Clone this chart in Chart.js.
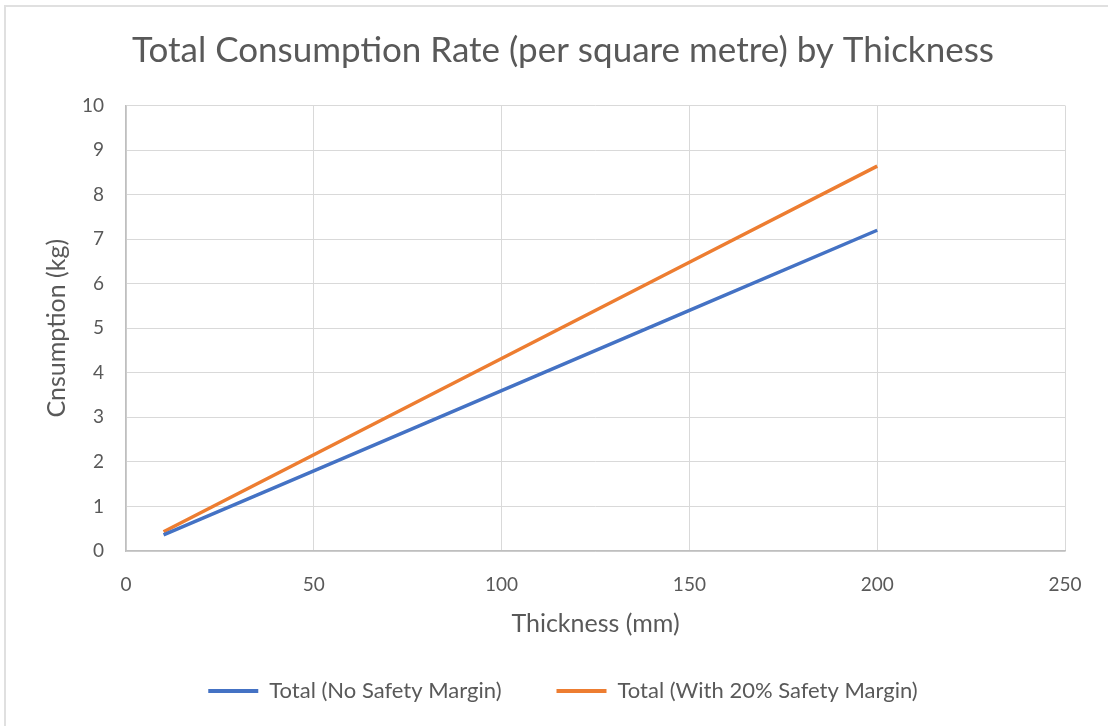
<!DOCTYPE html>
<html>
<head>
<meta charset="utf-8">
<script src="https://cdn.jsdelivr.net/npm/chart.js@4.4.1/dist/chart.umd.min.js"></script>
<style>
  html, body { margin: 0; padding: 0; background: #fff; }
  #wrap { width: 1108px; height: 726px; position: relative; }
</style>
</head>
<body>
<div id="wrap"><canvas id="chart" width="1108" height="726"></canvas></div>
<script>
// thickness (mm) and consumption (kg per m2)
const thickness = [10, 50, 100, 150, 200];
const noMargin = [0.36, 1.8, 3.6, 5.4, 7.2];
const withMargin = [0.432, 2.16, 4.32, 6.48, 8.64];
const seriesNames = ["Total (No Safety Margin)", "Total (With 20% Safety Margin)"];

const textGrey = "#595959";
const fontFamily = "Lato, 'Open Sans', sans-serif";

const toPoints = (xs, ys) => xs.map((x, i) => ({ x: x, y: ys[i] }));

// light frame around the chart area, like the office chart border
const frame = {
    id: "frame",
    beforeDraw(chart) {
        const ctx = chart.ctx;
        ctx.save();
        ctx.fillStyle = "#fff";
        ctx.fillRect(0, 0, chart.width, chart.height);
        ctx.strokeStyle = "#e0e0e0";
        ctx.lineWidth = 2;
        ctx.strokeRect(5, 6, chart.width + 20, chart.height + 20);
        ctx.restore();
    }
};

new Chart(document.getElementById("chart").getContext("2d"), {
    type: "scatter",
    data: {
        datasets: [
            {
                label: seriesNames[0],
                data: toPoints(thickness, noMargin),
                borderColor: "#4472C4",
                backgroundColor: "#4472C4",
                showLine: true,
                borderWidth: 3.5,
                pointRadius: 0
            },
            {
                label: seriesNames[1],
                data: toPoints(thickness, withMargin),
                borderColor: "#ED7D31",
                backgroundColor: "#ED7D31",
                showLine: true,
                borderWidth: 3.5,
                pointRadius: 0
            }
        ]
    },
    options: {
        responsive: false,
        animation: false,
        layout: { padding: { left: 18, right: 0, top: 0, bottom: 14 } },
        plugins: {
            title: {
                display: true,
                text: "Total Consumption Rate (per square metre) by Thickness",
                color: textGrey,
                font: { family: fontFamily, size: 35, weight: "normal" },
                padding: { top: 30, bottom: 33.5 }
            },
            legend: {
                position: "bottom",
                labels: {
                    color: textGrey,
                    font: { family: fontFamily, size: 22 },
                    boxWidth: 50,
                    boxHeight: 4,
                    padding: 55,
                    generateLabels(chart) {
                        return chart.data.datasets.map((ds, i) => ({
                            text: ds.label,
                            fillStyle: ds.borderColor,
                            strokeStyle: ds.borderColor,
                            lineWidth: 0,
                            datasetIndex: i,
                            fontColor: textGrey
                        }));
                    }
                }
            },
            tooltip: { enabled: false }
        },
        scales: {
            x: {
                type: "linear",
                min: 0,
                max: 250,
                ticks: {
                    stepSize: 50,
                    color: textGrey,
                    font: { family: fontFamily, size: 19 },
                    padding: 22
                },
                grid: { color: "#d9d9d9", lineWidth: 1, drawTicks: false },
                border: { color: "#bfbfbf", width: 1.5 },
                title: {
                    display: true,
                    text: "Thickness (mm)",
                    color: textGrey,
                    font: { family: fontFamily, size: 25 },
                    padding: { top: 0, bottom: -14 }
                },
                afterFit(scale) { scale.height = 74; }
            },
            y: {
                min: 0,
                max: 10,
                ticks: {
                    stepSize: 1,
                    color: textGrey,
                    font: { family: fontFamily, size: 19 },
                    padding: 22
                },
                grid: { color: "#d9d9d9", lineWidth: 1, drawTicks: false },
                border: { color: "#bfbfbf", width: 1.5 },
                title: {
                    display: true,
                    text: "Cnsumption (kg)",
                    color: textGrey,
                    font: { family: fontFamily, size: 25 },
                    padding: { top: 24, bottom: 0 }
                },
                afterFit(scale) { scale.width = 108; }
            },
            // empty right-hand spacer so the plot stops short of the right edge
            spacer: {
                type: "linear",
                position: "right",
                display: true,
                ticks: { display: false },
                grid: { display: false },
                border: { display: false },
                afterFit(scale) { scale.width = 43; }
            }
        }
    },
    plugins: [frame]
});
</script>
</body>
</html>
